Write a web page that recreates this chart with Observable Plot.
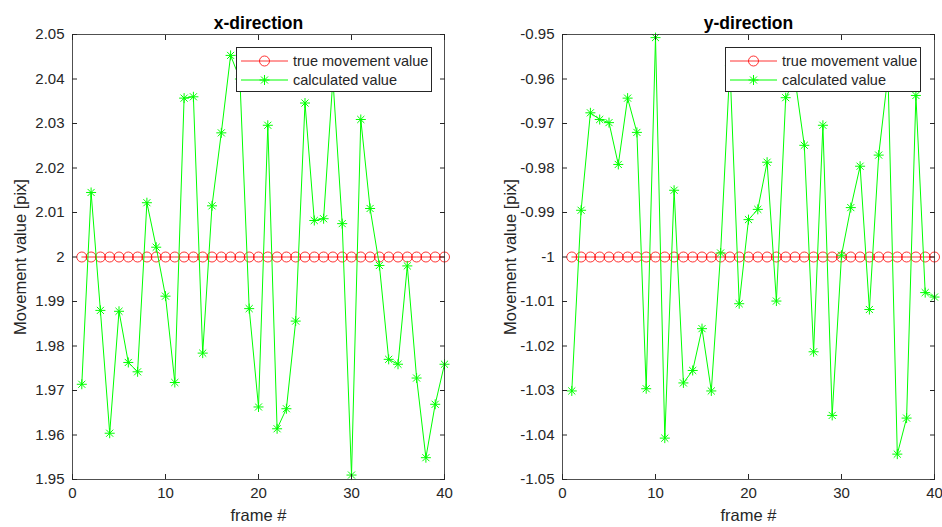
<!DOCTYPE html>
<html>
<head>
<meta charset="utf-8">
<script src="https://cdn.jsdelivr.net/npm/d3@7"></script>
<script src="https://cdn.jsdelivr.net/npm/@observablehq/plot@0.6"></script>
<style>
  body { margin: 0; background: #fff; font-family: "Liberation Sans", Arial, Helvetica, sans-serif; }
  #fig { position: relative; width: 942px; height: 527px; display: flex; background: #fff; }
  .panel { position: relative; width: 471px; height: 527px; }
  .legend { position: absolute; background: #fff; border: 1px solid #262626; box-sizing: border-box; }
  .legend svg { display: block; }
</style>
</head>
<body>
<div id="fig"></div>
<script>
// ---- data ----
const frames = [1,2,3,4,5,6,7,8,9,10,11,12,13,14,15,16,17,18,19,20,21,22,23,24,25,26,27,28,29,30,31,32,33,34,35,36,37,38,39,40];
const trueX = [2,2,2,2,2,2,2,2,2,2,2,2,2,2,2,2,2,2,2,2,2,2,2,2,2,2,2,2,2,2,2,2,2,2,2,2,2,2,2,2];
const trueY = [-1,-1,-1,-1,-1,-1,-1,-1,-1,-1,-1,-1,-1,-1,-1,-1,-1,-1,-1,-1,-1,-1,-1,-1,-1,-1,-1,-1,-1,-1,-1,-1,-1,-1,-1,-1,-1,-1,-1,-1];
const calcX = [1.9714, 2.0145, 1.9880, 1.9604, 1.9878, 1.9763, 1.9742, 2.0122, 2.0022, 1.9912,
               1.9718, 2.0357, 2.0360, 1.9784, 2.0115, 2.0279, 2.0453, 2.0400, 1.9884, 1.9663,
               2.0296, 1.9614, 1.9659, 1.9856, 2.0346, 2.0082, 2.0086, 2.0400, 2.0075, 1.9510,
               2.0309, 2.0109, 1.9981, 1.9770, 1.9759, 1.9980, 1.9728, 1.9549, 1.9669, 1.9759];
const calcY = [-1.0301, -0.9895, -0.9676, -0.9691, -0.9698, -0.9792, -0.9643, -0.9720, -1.0296, -0.9507,
               -1.0407, -0.9850, -1.0283, -1.0255, -1.0161, -1.0301, -0.9991, -0.9570, -1.0105, -0.9916,
               -0.9893, -0.9787, -1.0099, -0.9642, -0.9600, -0.9749, -1.0213, -0.9704, -1.0356, -0.9996,
               -0.9889, -0.9796, -1.0118, -0.9771, -0.9590, -1.0443, -1.0362, -0.9637, -1.0080, -1.0090];
const xTicks = [0, 10, 20, 30, 40];
const yTicksX = [1.95, 1.96, 1.97, 1.98, 1.99, 2.00, 2.01, 2.02, 2.03, 2.04, 2.05];
const yTicksY = [-1.05, -1.04, -1.03, -1.02, -1.01, -1.00, -0.99, -0.98, -0.97, -0.96, -0.95];
const titles = ["x-direction", "y-direction"];
const yLabel = "Movement value [pix]";
const xLabel = "frame #";
const seriesNames = ["true movement value", "calculated value"];

// MATLAB-style 8-ray asterisk
const asterisk = {
  draw(ctx, size) {
    const r = Math.sqrt(size / Math.PI);
    const d = r * Math.SQRT1_2;
    ctx.moveTo(0, -r); ctx.lineTo(0, r);
    ctx.moveTo(-r, 0); ctx.lineTo(r, 0);
    ctx.moveTo(-d, -d); ctx.lineTo(d, d);
    ctx.moveTo(-d, d); ctx.lineTo(d, -d);
  }
};

const ink = "#262626";
const fmt = d => String(+d.toFixed(2));

function panel({title, calc, truth, yDomain, yTicks, ml, mr}) {
  const data = frames.map((f, i) => ({f, c: calc[i], t: truth[i]}));
  return Plot.plot({
    width: 471, height: 527,
    marginLeft: ml, marginRight: mr, marginTop: 34, marginBottom: 48,
    style: {fontFamily: '"Liberation Sans", Arial, Helvetica, sans-serif', fontSize: "15px", color: ink, background: "#fff", overflow: "visible"},
    x: {domain: [0, 40], label: null},
    y: {domain: yDomain, label: null},
    marks: [
      Plot.line(data, {x: "f", y: "t", stroke: "#ff0000", strokeWidth: 0.8}),
      Plot.dot(data, {x: "f", y: "t", r: 5, stroke: "#ff0000", strokeWidth: 0.8, fill: "none"}),
      Plot.line(data, {x: "f", y: "c", stroke: "#00ff00", strokeWidth: 1}),
      Plot.dot(data, {x: "f", y: "c", r: 5, symbol: asterisk, stroke: "#00ff00", strokeWidth: 1}),
      Plot.frame({stroke: ink, strokeWidth: 0.8}),
      Plot.axisX({ticks: xTicks, anchor: "bottom", tickSize: -5, tickPadding: 13, tickFormat: fmt, label: null, stroke: ink, fontSize: 15}),
      Plot.axisX({ticks: xTicks, anchor: "top", tickSize: -5, tickFormat: () => "", label: null, stroke: ink}),
      Plot.axisY({ticks: yTicks, anchor: "left", tickSize: -5, tickPadding: 13, tickFormat: fmt, label: null, stroke: ink, fontSize: 15}),
      Plot.axisY({ticks: yTicks, anchor: "right", tickSize: -5, tickFormat: () => "", label: null, stroke: ink}),
      Plot.text([title], {text: d => d, frameAnchor: "top", dy: -11, lineAnchor: "middle", textAnchor: "middle", fontWeight: "bold", fontSize: 17.5, fill: "#000"}),
      Plot.text([xLabel], {text: d => d, frameAnchor: "bottom", dy: 36, lineAnchor: "middle", textAnchor: "middle", fontSize: 16.5, fill: ink}),
      Plot.text([yLabel], {text: d => d, frameAnchor: "left", dx: -52, rotate: -90, lineAnchor: "middle", textAnchor: "middle", fontSize: 16.5, fill: ink})
    ]
  });
}

function legend(left) {
  const div = document.createElement("div");
  div.className = "legend";
  Object.assign(div.style, {left: left + "px", top: "47px", width: "196px", height: "45px"});
  div.innerHTML = `
  <svg width="194" height="43" font-family='"Liberation Sans", Arial, Helvetica, sans-serif' font-size="14.5" fill="${ink}">
    <line x1="4" x2="51" y1="13" y2="13" stroke="#ff0000" stroke-width="0.8"/>
    <circle cx="27.5" cy="13" r="5" fill="none" stroke="#ff0000" stroke-width="0.8"/>
    <text x="56" y="13" dy="0.35em">${seriesNames[0]}</text>
    <line x1="4" x2="51" y1="32" y2="32" stroke="#00ff00" stroke-width="1"/>
    <path transform="translate(27.5,32)" d="M0,-5L0,5M-5,0L5,0M-3.5,-3.5L3.5,3.5M-3.5,3.5L3.5,-3.5" stroke="#00ff00" stroke-width="1"/>
    <text x="56" y="32" dy="0.35em">${seriesNames[1]}</text>
  </svg>`;
  return div;
}

const fig = document.getElementById("fig");
const cfgs = [
  {title: titles[0], calc: calcX, truth: trueX, yDomain: [1.95, 2.05], yTicks: yTicksX, ml: 72, mr: 27, legendLeft: 235.5},
  {title: titles[1], calc: calcY, truth: trueY, yDomain: [-1.05, -0.95], yTicks: yTicksY, ml: 91, mr: 8, legendLeft: 254}
];
for (const c of cfgs) {
  const p = document.createElement("div");
  p.className = "panel";
  p.appendChild(panel(c));
  p.appendChild(legend(c.legendLeft));
  fig.appendChild(p);
}
</script>
</body>
</html>
